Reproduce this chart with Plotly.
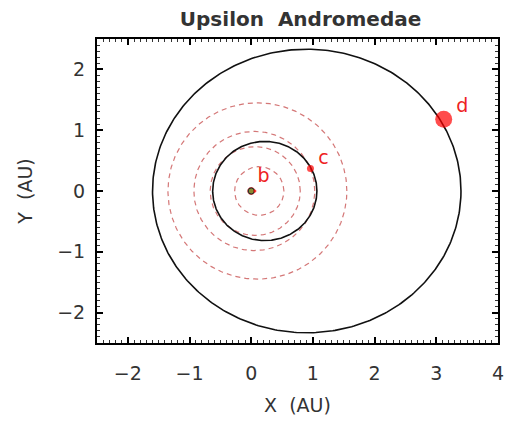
import numpy as np
import plotly.graph_objects as go

# Orbital elements (AU)
planet_names = ["b", "c", "d"]
orbit_a = [0.06, 0.845, 2.5]
orbit_e = [0.0, 0.26, 0.36]
planet_x = [0.06, 0.96, 3.12]
planet_y = [0.0, 0.37, 1.18]
planet_size = [3, 7, 17]
label_x = [0.2, 1.17, 3.42]
label_y = [0.22, 0.52, 1.37]

# Red dashed reference circles
ring_cx = [0.13, 0.065, 0.05, 0.1]
ring_r = [0.4, 0.73, 0.98, 1.45]

x_ticks = [-2, -1, 0, 1, 2, 3, 4]
y_ticks = [-2, -1, 0, 1, 2]

fig = go.Figure()
t = np.linspace(0, 2 * np.pi, 400)

for cx, r in zip(ring_cx, ring_r):
    fig.add_trace(go.Scatter(x=cx + r * np.cos(t), y=r * np.sin(t), mode="lines",
                             line=dict(color="rgba(205,95,95,0.85)", width=1.2, dash="5px,4px"),
                             hoverinfo="skip", showlegend=False))

for name, a, e in zip(planet_names, orbit_a, orbit_e):
    b = a * np.sqrt(1 - e ** 2)
    col = "#111" if name != "b" else "rgba(200,40,40,0.8)"
    fig.add_trace(go.Scatter(x=a * e + a * np.cos(t), y=b * np.sin(t), mode="lines",
                             line=dict(color=col, width=1.6 if name != "b" else 1),
                             hoverinfo="skip", showlegend=False))

# star
fig.add_trace(go.Scatter(x=[0], y=[0], mode="markers",
                         marker=dict(size=6, color="#8a8a30", line=dict(color="#222", width=1)),
                         showlegend=False))

fig.add_trace(go.Scatter(x=planet_x, y=planet_y, mode="markers",
                         marker=dict(size=planet_size, color="#ff0000", line=dict(width=0)),
                         showlegend=False))
fig.add_trace(go.Scatter(x=label_x, y=label_y, mode="text", text=planet_names,
                         textfont=dict(family="DejaVu Sans", size=19, color="#ee2222"),
                         showlegend=False))

axis_common = dict(showgrid=False, zeroline=False, showline=True, linecolor="black", linewidth=2,
                   mirror="allticks", ticks="inside", ticklen=6, tickwidth=1.5, tickcolor="black",
                   minor=dict(ticks="inside", ticklen=3, tickcolor="#333", tickwidth=1, dtick=0.1),
                   tickfont=dict(family="DejaVu Sans", size=19, color="#333"))

fig.update_xaxes(range=[-2.5, 4], tickvals=x_ticks, ticktext=[str(v).replace("-", "\u2212") for v in x_ticks],
                 title=dict(text="X  (AU)", font=dict(family="DejaVu Sans", size=19, color="#333"), standoff=16),
                 ticklabelstandoff=12, **axis_common)
fig.update_yaxes(range=[-2.5, 2.5], tickvals=y_ticks, ticktext=[str(v).replace("-", "\u2212") for v in y_ticks],
                 title=dict(text="Y  (AU)", font=dict(family="DejaVu Sans", size=19, color="#333"), standoff=20),
                 ticklabelstandoff=6, **axis_common)

fig.update_layout(width=516, height=425, margin=dict(l=97, r=12, t=39, b=79),
                  paper_bgcolor="white", plot_bgcolor="white",
                  title=dict(text="<b>Upsilon  Andromedae</b>", x=0.5825, xanchor="center", y=0.955, yanchor="middle",
                             font=dict(family="DejaVu Sans", size=20, color="#333")))

fig.write_html("out.html")
